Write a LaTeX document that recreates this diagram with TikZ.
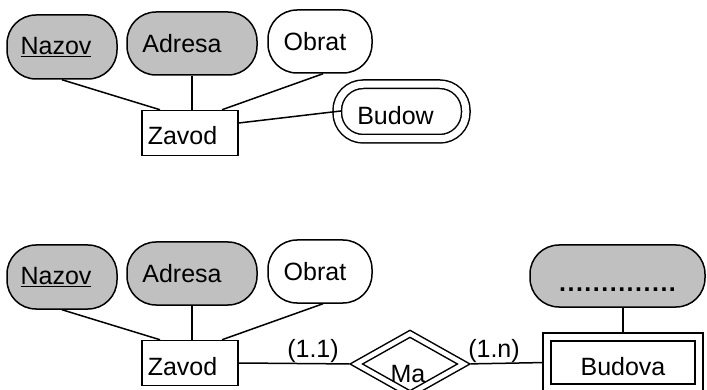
\documentclass[tikz,border=0pt]{standalone}
\usepackage{fontspec}
\setmainfont{Liberation Sans}
\usetikzlibrary{shapes.geometric}
\definecolor{keygray}{RGB}{192,192,192}
\tikzset{
  base/.style={line width=1.5pt, inner sep=0pt, font=\fontsize{25}{30}\selectfont},
  attr/.style={base, draw, rounded corners=29pt, fill=white},
  keyattr/.style={attr, fill=keygray},
  entity/.style={base, draw, rectangle, fill=white},
  weakentity/.style={base, draw, rectangle, double, double distance=6.5pt},
  multiattr/.style={base, draw, rounded corners=26pt, double, double distance=7pt},
  weakrel/.style={base, draw, diamond, double, double distance=4.5pt},
  card/.style={base, inner sep=0pt},
  link/.style={line width=1.5pt}
}
\begin{document}
\begin{tikzpicture}[x=1pt, y=-1pt]
  \useasboundingbox (0,0) rectangle (707,390);

  % --- upper diagram: Zavod with a multivalued attribute
  \node[keyattr, minimum width=110pt, minimum height=64pt] (nazA) at (62,47) {\underline{Nazov}\hspace*{12pt}};
  \node[keyattr, minimum width=130pt, minimum height=63pt] (adrA) at (192,43.5) {Adresa\hspace*{20pt}};
  \node[attr, minimum width=104pt, minimum height=63pt] (obrA) at (320,41.5) {Obrat\hspace*{10pt}};
  \node[entity, minimum width=96pt, minimum height=45pt, text height=24pt, text depth=0pt] (zavA) at (190,133) {Zavod\hspace*{15pt}};
  \node[multiattr, minimum width=128.5pt, minimum height=54.5pt, text height=27pt, text depth=0pt] (budowA) at (401.5,111.5) {Budow\hspace*{12pt}};

  \draw[link] (nazA.south) -- ([xshift=-30pt]zavA.north);
  \draw[link] (adrA.south) -- (adrA.south |- zavA.north);
  \draw[link] ([xshift=3pt]obrA.south) -- ([xshift=32pt]zavA.north);
  \draw[link, shorten >=-4.5pt] ([yshift=10pt]zavA.east) -- (budowA.west);

  % --- lower diagram: Zavod and the weak entity Budova
  \node[keyattr, minimum width=110pt, minimum height=64pt] (nazB) at (62,277) {\underline{Nazov}\hspace*{12pt}};
  \node[keyattr, minimum width=130pt, minimum height=63pt] (adrB) at (192,273.5) {Adresa\hspace*{20pt}};
  \node[attr, minimum width=104pt, minimum height=63pt] (obrB) at (320,271.5) {Obrat\hspace*{10pt}};
  \node[entity, minimum width=96pt, minimum height=45pt, text height=24pt, text depth=0pt] (zavB) at (190,363) {Zavod\hspace*{15pt}};

  \node[weakrel, minimum width=108pt, minimum height=61pt] (ma) at (410,364) {};
  \node[card] (maText) at (408,374) {Ma};
  \node[weakentity, minimum width=152pt, minimum height=51pt, text height=25pt, text depth=0pt] (budova) at (623,362.5) {Budova};
  \node[keyattr, minimum width=175pt, minimum height=62pt, text height=30pt, text depth=0pt] (dots) at (617.5,276)
    {\bfseries\addfontfeature{LetterSpace=6}..............};

  \node[card] (c11) at (313,351) {(1.1)};
  \node[card] (c1n) at (494,351) {(1.n)};

  \draw[link] (nazB.south) -- ([xshift=-30pt]zavB.north);
  \draw[link] (adrB.south) -- (adrB.south |- zavB.north);
  \draw[link] ([xshift=3pt]obrB.south) -- ([xshift=32pt]zavB.north);
  \draw[link, shorten >=6pt] (zavB.east) -- (ma.west);
  \draw[link, shorten <=6pt, shorten >=4pt] (ma.east) -- (budova.west);
  \draw[link, shorten >=4pt] (dots.south -| budova.north) -- (budova.north);
\end{tikzpicture}
\end{document}
